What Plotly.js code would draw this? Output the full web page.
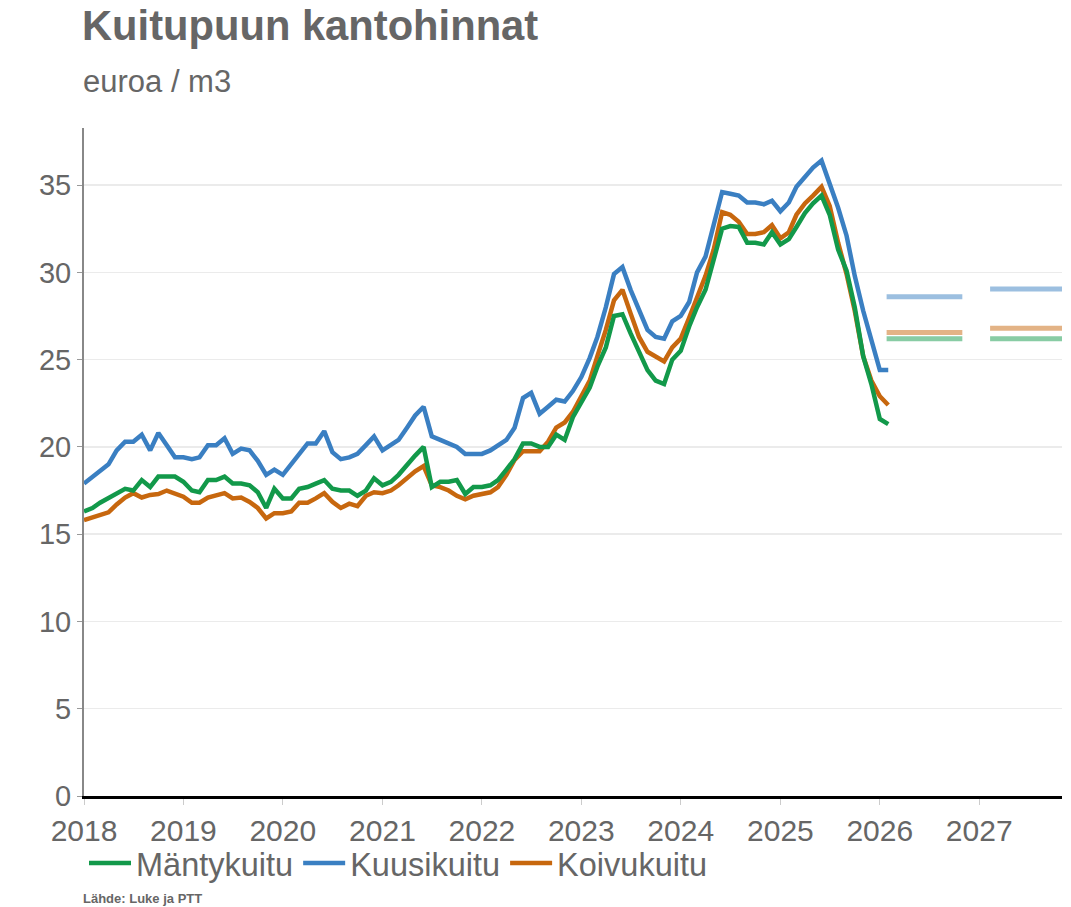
<!DOCTYPE html>
<html>
<head>
<meta charset="utf-8">
<script src="https://cdn.plot.ly/plotly-3.0.1.min.js"></script>
<style>html,body{margin:0;padding:0;background:#fff;}#chart{width:1071px;height:907px;}</style>
</head>
<body>
<div id="chart"></div>
<script>
// Monthly data, Jan 2018 ... Feb 2026 (euroa / m3)
const startYear = 2018;
const mantykuitu = [
  16.3, 16.5, 16.8, 17.05, 17.3, 17.6, 17.5, 18.1, 17.7, 18.3, 18.3, 18.3,
  18.0, 17.5, 17.4, 18.1, 18.1, 18.3, 17.9, 17.9, 17.8, 17.4, 16.5, 17.6,
  17.05, 17.05, 17.6, 17.7, 17.9, 18.1, 17.6, 17.5, 17.5, 17.2, 17.5, 18.2,
  17.8, 18.0, 18.4, 19.0, 19.5, 20.0, 17.7, 18.0, 18.0, 18.1, 17.3, 17.7,
  17.7, 17.8, 18.1, 18.7, 19.3, 20.2, 20.2, 20.0, 20.0, 20.7, 20.4, 21.7,
  22.5, 23.4, 24.6, 25.7, 27.5, 27.6, 26.5, 25.5, 24.4, 23.8, 23.6, 25.0,
  25.5, 26.9, 28.0, 29.0, 30.7, 32.5, 32.65, 32.6, 31.7, 31.7, 31.6, 32.3,
  31.6, 31.9, 32.6, 33.4, 33.95, 34.4, 33.3, 31.3, 30.1, 28.0, 25.2, 23.6,
  21.6, 21.3
];
const kuusikuitu = [
  17.9, 18.3, 18.6, 19.0, 19.8, 20.3, 20.3, 20.7, 19.8, 20.8, 20.1, 19.4,
  19.4, 19.3, 19.4, 20.1, 20.1, 20.5, 19.6, 19.9, 19.8, 19.2, 18.4, 18.7,
  18.4, 19.0, 19.5, 20.2, 20.2, 20.9, 19.7, 19.3, 19.4, 19.6, 20.1, 20.6,
  19.8, 20.1, 20.4, 21.1, 21.8, 22.3, 20.6, 20.4, 20.2, 20.0, 19.6, 19.6,
  19.6, 19.8, 20.1, 20.4, 21.1, 22.8, 23.1, 21.9, 22.3, 22.7, 22.6, 23.2,
  24.0, 25.1, 26.3, 28.0, 29.9, 30.3, 29.0, 27.8, 26.7, 26.3, 26.2, 27.2,
  27.5, 28.3, 30.0, 30.9, 32.8, 34.6, 34.5, 34.4, 34.0, 34.0, 33.9, 34.1,
  33.5, 34.0, 34.9, 35.5, 36.0, 36.4, 35.1, 33.7, 32.1, 29.8, 27.8, 26.1,
  24.4, 24.4
];
const koivukuitu = [
  15.8, 15.95, 16.1, 16.25, 16.7, 17.1, 17.35, 17.1, 17.25, 17.3, 17.5, 17.3,
  17.15, 16.8, 16.8, 17.1, 17.2, 17.35, 17.05, 17.1, 16.85, 16.5, 15.9, 16.2,
  16.2, 16.3, 16.8, 16.8, 17.05, 17.35, 16.85, 16.5, 16.75, 16.6, 17.2, 17.4,
  17.35, 17.5, 17.8, 18.2, 18.6, 18.9, 17.8, 17.7, 17.5, 17.2, 17.0, 17.2,
  17.3, 17.4, 17.7, 18.4, 19.25, 19.75, 19.75, 19.75, 20.3, 21.1, 21.4, 22.0,
  22.9, 23.8, 25.2, 26.7, 28.4, 29.0, 27.65, 26.3, 25.45, 25.2, 24.9, 25.7,
  26.2, 27.4, 28.6, 29.8, 31.3, 33.45, 33.3, 32.9, 32.2, 32.2, 32.3, 32.7,
  31.95, 32.3, 33.3, 33.95, 34.4, 34.9, 33.8, 31.7, 29.9, 27.8, 25.2, 23.8,
  22.9, 22.4
];
// Annual forecasts 2026, 2027
const forecastYears = [2026, 2027];
const fcStart = ["2026-01-26", "2027-02-10"];
const fcEnd = ["2026-10-31", "2027-11-15"];
const fcMantykuitu = [26.2, 26.2];
const fcKuusikuitu = [28.6, 29.05];
const fcKoivukuitu = [26.55, 26.8];
const tickYears = [2018, 2019, 2020, 2021, 2022, 2023, 2024, 2025, 2026, 2027];

const names = ["Mäntykuitu", "Kuusikuitu", "Koivukuitu"];
const colors = ["#12994a", "#3a7fc2", "#c7670e"];

function monthDates(n) {
  const out = [];
  for (let i = 0; i < n; i++) {
    const y = startYear + Math.floor(i / 12);
    const m = (i % 12) + 1;
    out.push(y + "-" + String(m).padStart(2, "0") + "-01");
  }
  return out;
}
const dates = monthDates(mantykuitu.length);
const series = [mantykuitu, kuusikuitu, koivukuitu];
const fcSeries = [fcMantykuitu, fcKuusikuitu, fcKoivukuitu];

const traces = [];
// forecast segments (drawn first, behind)
[1, 2, 0].forEach(function (s) {
  for (let k = 0; k < forecastYears.length; k++) {
    traces.push({
      type: "scatter", mode: "lines",
      x: [fcStart[k], fcEnd[k]],
      y: [fcSeries[s][k], fcSeries[s][k]],
      line: { color: colors[s], width: 5 },
      opacity: 0.5,
      showlegend: false, hoverinfo: "skip"
    });
  }
});
[1, 2, 0].forEach(function (s) {
  traces.push({
    type: "scatter", mode: "lines",
    name: names[s], x: dates, y: series[s],
    line: { color: colors[s], width: 4.5 },
    legendrank: s + 1
  });
});

const layout = {
  width: 1071, height: 907,
  paper_bgcolor: "#fff", plot_bgcolor: "#fff",
  margin: { l: 84, r: 9, t: 128, b: 111 },
  font: { family: "Liberation Sans, Arial, sans-serif", color: "#666" },
  title: {
    text: "<b>Kuitupuun kantohinnat</b>",
    font: { size: 41.7, color: "#666", family: "Liberation Sans, Arial, sans-serif" },
    x: 82 / 1071, xanchor: "left", xref: "container",
    y: 1 - 25 / 907, yanchor: "middle", yref: "container"
  },
  xaxis: {
    type: "date",
    range: ["2018-01-01", "2027-11-01"],
    tickvals: tickYears.map(function (y) { return y + "-01-01"; }),
    ticktext: tickYears.map(String),
    ticks: "outside", ticklen: 6, tickcolor: "#ccc", tickwidth: 1,
    showline: true, linecolor: "#000", linewidth: 3,
    showgrid: false, zeroline: false,
    tickfont: { size: 30, color: "#666" }
  },
  yaxis: {
    range: [0, 38.27],
    tickvals: [0, 5, 10, 15, 20, 25, 30, 35],
    ticks: "outside", ticklen: 5, tickcolor: "#999", tickwidth: 1,
    showline: true, linecolor: "#888", linewidth: 2,
    gridcolor: "#ebebeb", gridwidth: 1.5, zeroline: false,
    tickfont: { size: 29, color: "#666" }
  },
  legend: {
    orientation: "h", x: 0.0, xanchor: "left",
    y: -0.101, yanchor: "middle",
    bgcolor: "rgba(0,0,0,0)",
    font: { size: 32.5, color: "#666" },
    itemwidth: 42, tracegroupgap: 0,
    traceorder: "normal"
  },
  showlegend: true,
  annotations: [
    {
      text: "euroa / m3", xref: "paper", yref: "paper",
      x: -0.003, y: (796 - 81) / 668, xanchor: "left", yanchor: "middle",
      showarrow: false, font: { size: 31, color: "#666" }
    },
    {
      text: "<b>Lähde: Luke ja PTT</b>", xref: "paper", yref: "paper",
      x: -0.003, y: (796 - 898) / 668, xanchor: "left", yanchor: "middle",
      showarrow: false, font: { size: 13, color: "#666" }
    }
  ]
};

Plotly.newPlot("chart", traces, layout, { displayModeBar: false, staticPlot: true });
</script>
</body>
</html>
